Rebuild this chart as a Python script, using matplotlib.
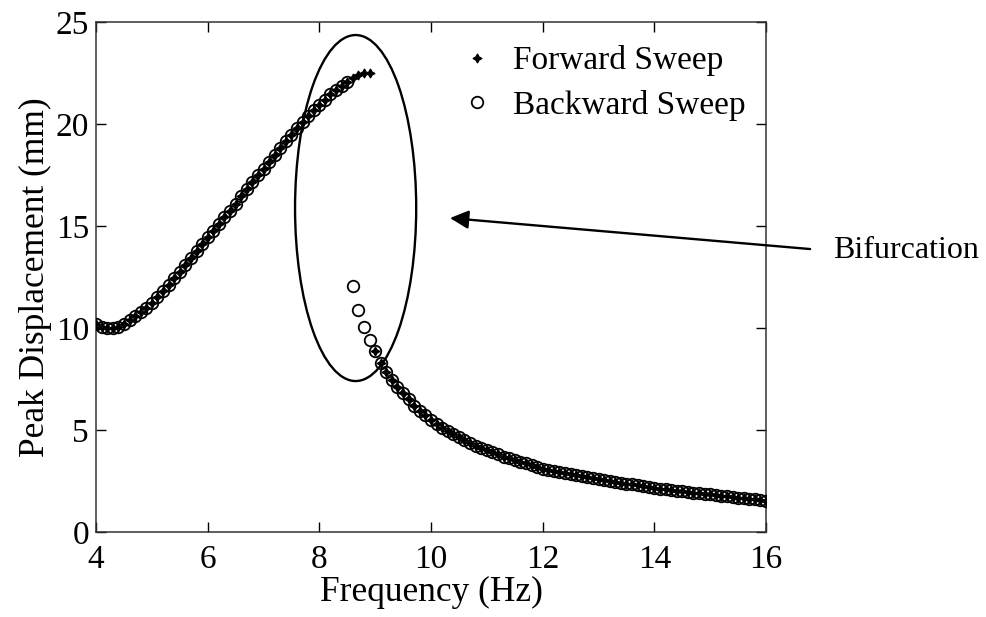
import matplotlib
matplotlib.use("Agg")
import matplotlib.pyplot as plt
from matplotlib.patches import Ellipse

# Upper branch (resonant), frequencies in Hz
freq_upper = [4.0, 4.1, 4.2, 4.3, 4.4, 4.5, 4.6, 4.7, 4.8, 4.9,
              5.0, 5.1, 5.2, 5.3, 5.4, 5.5, 5.6, 5.7, 5.8, 5.9,
              6.0, 6.1, 6.2, 6.3, 6.4, 6.5, 6.6, 6.7, 6.8, 6.9,
              7.0, 7.1, 7.2, 7.3, 7.4, 7.5, 7.6, 7.7, 7.8, 7.9,
              8.0, 8.1, 8.2, 8.3, 8.4, 8.5, 8.6, 8.7, 8.8, 8.9]
disp_upper = [10.2, 10.05, 10.0, 10.0, 10.05, 10.2, 10.4, 10.6, 10.8, 11.0,
              11.25, 11.5, 11.8, 12.1, 12.45, 12.75, 13.1, 13.45, 13.75, 14.1,
              14.45, 14.75, 15.1, 15.45, 15.75, 16.1, 16.45, 16.8, 17.15, 17.5,
              17.8, 18.15, 18.5, 18.8, 19.15, 19.45, 19.8, 20.1, 20.4, 20.7,
              20.95, 21.2, 21.45, 21.65, 21.85, 22.05, 22.25, 22.4, 22.5, 22.5]

# Lower branch (non-resonant)
freq_lower = [8.6, 8.7, 8.8, 8.9,
              9.0, 9.1, 9.2, 9.3, 9.4, 9.5, 9.6, 9.7, 9.8, 9.9,
              10.0, 10.1, 10.2, 10.3, 10.4, 10.5, 10.6, 10.7, 10.8, 10.9,
              11.0, 11.1, 11.2, 11.3, 11.4, 11.5, 11.6, 11.7, 11.8, 11.9,
              12.0, 12.1, 12.2, 12.3, 12.4, 12.5, 12.6, 12.7, 12.8, 12.9,
              13.0, 13.1, 13.2, 13.3, 13.4, 13.5, 13.6, 13.7, 13.8, 13.9,
              14.0, 14.1, 14.2, 14.3, 14.4, 14.5, 14.6, 14.7, 14.8, 14.9,
              15.0, 15.1, 15.2, 15.3, 15.4, 15.5, 15.6, 15.7, 15.8, 15.9,
              16.0]
disp_lower = [12.06, 10.88, 10.06, 9.41,
              8.85, 8.3, 7.85, 7.45, 7.1, 6.8, 6.5, 6.2, 5.95, 5.72,
              5.5, 5.3, 5.12, 4.95, 4.8, 4.65, 4.5, 4.37, 4.24, 4.12,
              4.0, 3.9, 3.8, 3.7, 3.61, 3.52, 3.44, 3.36, 3.28, 3.2,
              3.1, 3.04, 2.98, 2.93, 2.88, 2.83, 2.78, 2.73, 2.68, 2.63,
              2.58, 2.54, 2.49, 2.45, 2.41, 2.37, 2.33, 2.29, 2.25, 2.21,
              2.17, 2.13, 2.1, 2.06, 2.03, 2.0, 1.96, 1.93, 1.9, 1.87,
              1.84, 1.81, 1.78, 1.75, 1.72, 1.69, 1.66, 1.63, 1.6, 1.57,
              1.53]

fwd_jump_freq = 8.9   # last point of forward sweep on upper branch
bwd_jump_freq = 8.6   # last point of backward sweep on lower branch

fwd_f = list(freq_upper) + [f for f in freq_lower if f > fwd_jump_freq]
fwd_d = list(disp_upper) + [d for f, d in zip(freq_lower, disp_lower) if f > fwd_jump_freq]
bwd_f = [f for f in freq_upper if f < bwd_jump_freq] + list(freq_lower)
bwd_d = [d for f, d in zip(freq_upper, disp_upper) if f < bwd_jump_freq] + list(disp_lower)

xticks = [4, 6, 8, 10, 12, 14, 16]
yticks = [0, 5, 10, 15, 20, 25]

plt.rcParams['font.family'] = ['Liberation Serif', 'DejaVu Serif']

fig = plt.figure(figsize=(9.86, 6.17), dpi=100)
ax = fig.add_axes([96/986, 85/617, 670/986, 510/617])

ax.plot(bwd_f, bwd_d, linestyle='none', marker='o', markersize=8.3,
        markerfacecolor='none', markeredgecolor='black', markeredgewidth=1.3,
        label='Backward Sweep', zorder=3)
ax.plot(fwd_f, fwd_d, linestyle='none', marker=(4, 1, 0), markersize=6.5,
        color='black', markeredgewidth=0.9, label='Forward Sweep', zorder=4)

ell = Ellipse((8.65, 15.88), 2.17, 16.96, fill=False, edgecolor='black', lw=1.7, zorder=5)
ax.add_patch(ell)

ax.annotate('', xy=(10.34, 15.39), xytext=(16.79, 13.87),
            arrowprops=dict(arrowstyle='-|>', mutation_scale=28, lw=1.7,
                            color='black', shrinkA=0, shrinkB=0),
            annotation_clip=False)
ax.text(17.2, 13.82, 'Bifurcation', fontsize=23, va='center', ha='left', clip_on=False)

ax.set_xlim(4, 16)
ax.set_ylim(0, 25)
ax.set_xticks(xticks)
ax.set_yticks(yticks)
ax.tick_params(axis='x', pad=9)
ax.tick_params(axis='y', pad=5)
ax.tick_params(direction='in', top=True, right=True, length=7, width=1, labelsize=24)
for s in ax.spines.values():
    s.set_linewidth(1.1)
    s.set_color('#333333')

ax.set_xlabel('Frequency (Hz)', fontsize=25.5, labelpad=1)
ax.set_ylabel('Peak Displacement (mm)', fontsize=25.5, labelpad=3)

handles, labels = ax.get_legend_handles_labels()
ax.legend(handles[::-1], labels[::-1], loc='upper right', frameon=False, fontsize=24,
          handletextpad=0.55, borderaxespad=0.3, labelspacing=0.4, handlelength=1.1,
          markerscale=1.0, bbox_to_anchor=(1.005, 1.0))

fig.savefig('out.png', dpi=100)
